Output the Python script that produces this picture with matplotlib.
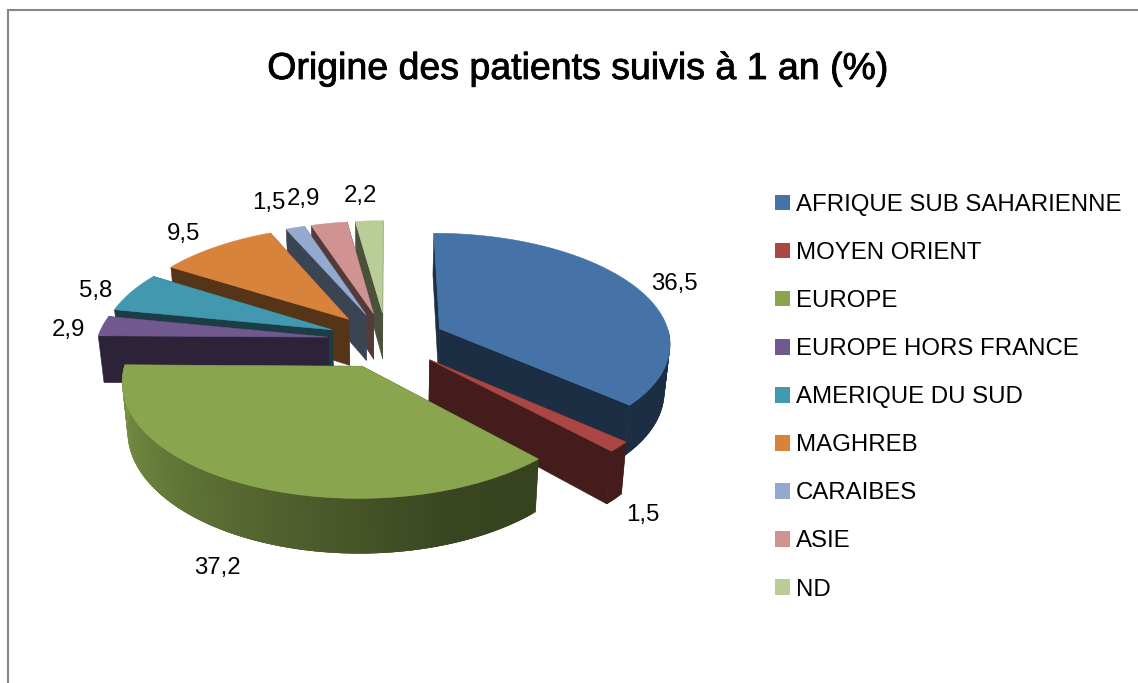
import numpy as np
import matplotlib
matplotlib.use("Agg")
import matplotlib.pyplot as plt
from matplotlib.patches import Polygon, Patch
import matplotlib.patheffects as pe

plt.rcParams['font.family'] = ['Liberation Sans', 'DejaVu Sans']

title = "Origine des patients suivis à 1 an (%)"
categories = ["AFRIQUE SUB SAHARIENNE", "MOYEN ORIENT", "EUROPE", "EUROPE HORS FRANCE",
              "AMERIQUE DU SUD", "MAGHREB", "CARAIBES", "ASIE", "ND"]
values = [36.5, 1.5, 37.2, 2.9, 5.8, 9.5, 1.5, 2.9, 2.2]
top_colors = ["#4572A7", "#AA4643", "#89A54E", "#71588F", "#4198AF",
              "#D8833C", "#93A9CF", "#D19392", "#B9CD96"]
label_xy = [(674, 284), (643, 515), (217, 568), (68, 330), (96, 291),
            (184, 234), (269, 203), (303, 199), (360, 196)]

CX, CY, A, B, K, DEPTH, EXPLODE, LOWER = 386.5, 340, 231, 109.4, 0.12, 47, 0.255, 0.98


def project(X, Y, drop=0.0):
    s = 1.0 / (1.0 - K * Y)
    scale = 1 - (1 - LOWER) * drop
    return CX + A * X * s * scale, CY + B * Y * s + drop * DEPTH * s


def shade(hex_color, f):
    return tuple(c * f for c in matplotlib.colors.to_rgb(hex_color))


def side_factor(theta):
    return np.interp(theta, [0, 140, 160, 200, 240, 270, 360],
                     [.40, .40, .42, .60, .78, .90, .90])


fig = plt.figure(figsize=(11.38, 6.83), dpi=100)
ax = fig.add_axes([0, 0, 1, 1])
ax.set_xlim(0, 1138)
ax.set_ylim(683, 0)
ax.axis("off")

total = sum(values)
edges = np.concatenate([[0], np.cumsum(values)]) / total * 360
geoms = []
for i, v in enumerate(values):
    t0, t1 = edges[i], edges[i + 1]
    mid = np.radians((t0 + t1) / 2)
    ox, oy = EXPLODE * np.sin(mid), -EXPLODE * np.cos(mid)
    thetas = np.linspace(t0, t1, max(int((t1 - t0) * 1.5), 4))
    Xs = ox + np.sin(np.radians(thetas))
    Ys = oy - np.cos(np.radians(thetas))
    geoms.append((ox, oy, thetas, Xs, Ys))

order = [8, 7, 6, 5, 4, 3, 0, 1, 2]
z = 2
for i in order:
    ox, oy, thetas, Xs, Ys = geoms[i]
    col = top_colors[i]
    dark = shade(col, .40)
    for Xe, Ye in ((Xs[0], Ys[0]), (Xs[-1], Ys[-1])):
        pts = [project(ox, oy), project(Xe, Ye), project(Xe, Ye, 1), project(ox, oy, 1)]
        ax.add_patch(Polygon(pts, closed=True, fc=dark, ec=dark, lw=.4, zorder=z))
    n = len(thetas)
    for j in range(n - 1):
        tm = (thetas[j] + thetas[j + 1]) / 2
        if 90 <= tm <= 270:
            k = min(j + 3, n - 1)  # overlap the next strips so that no seams show
            c = shade(col, side_factor(tm))
            pts = [project(Xs[j], Ys[j]), project(Xs[k], Ys[k]),
                   project(Xs[k], Ys[k], 1), project(Xs[j], Ys[j], 1)]
            ax.add_patch(Polygon(pts, closed=True, fc=c, ec="none", lw=0, zorder=z))
    top = [project(ox, oy)] + [project(x, y) for x, y in zip(Xs, Ys)]
    ax.add_patch(Polygon(top, closed=True, fc=col, ec=col, lw=.4, zorder=z + 1))
    z += 2

for v, (x, y) in zip(values, label_xy):
    ax.text(x, y, f"{v:.1f}".replace(".", ","), fontsize=17.3, color="black",
            ha="center", va="center", zorder=50)

t = ax.text(578, 69, title, fontsize=27, color="black", ha="center", va="center", zorder=50)
t.set_path_effects([pe.withStroke(linewidth=.6, foreground="black")])

handles = [Patch(fc=c, ec="none") for c in top_colors]
ax.legend(handles, categories, loc="upper left", bbox_to_anchor=(775, 194),
          bbox_transform=ax.transData, frameon=False, fontsize=17.3,
          handlelength=.62, handleheight=.62, handletextpad=.25,
          labelspacing=1.085, borderpad=0, borderaxespad=0)

ax.plot([8, 8, 1138], [683, 10, 10], color="#868686", lw=1.5, solid_joinstyle="miter",
        clip_on=False, zorder=60)

fig.savefig("out.png", dpi=100)
